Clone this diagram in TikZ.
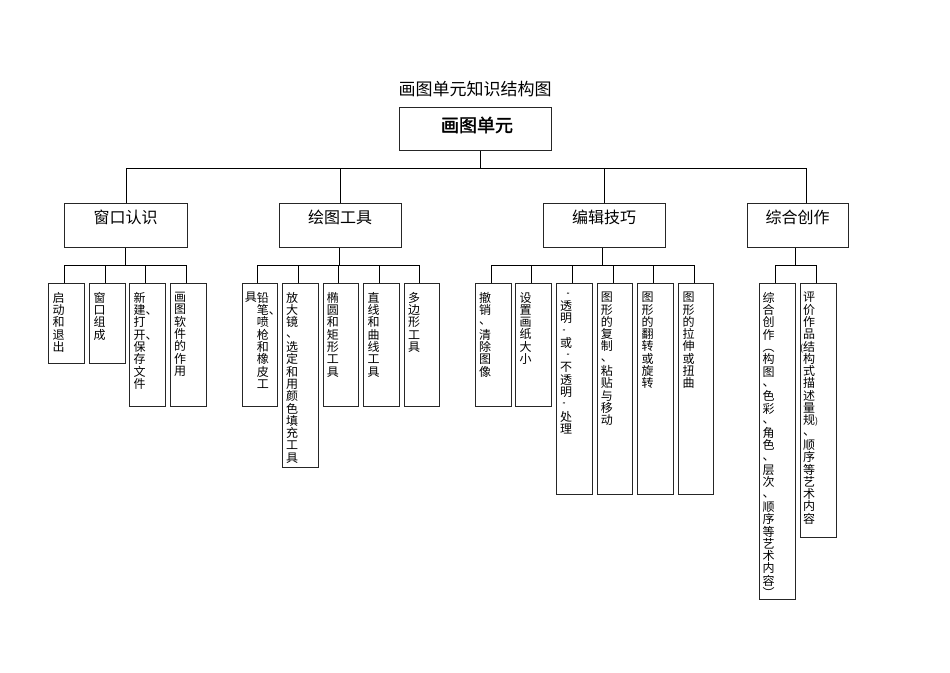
\documentclass[tikz,border=0pt]{standalone}
\usepackage{fontspec}
\newfontfamily\cjk{Noto Sans CJK SC}
\newfontfamily\cjkb[FakeBold=2]{Noto Sans CJK SC}
\def\vtendm{\vtend}
\def\vtloop#1{\def\vtarg{#1}\ifx\vtarg\vtendm\else\hbox to 12pt{\hss#1\hss}\expandafter\vtloop\fi}
\newcommand\vt[1]{\vtop{\baselineskip=12.3pt\lineskiplimit=-20pt\lineskip=0pt\vtloop#1\vtend}}
\newcommand\qm[1]{{\fontsize{7pt}{7pt}\selectfont #1}}
\newcommand\pl{\llap{\fontsize{9pt}{9pt}\selectfont(}}
\newcommand\pr{\rlap{\fontsize{9pt}{9pt}\selectfont)}}
\newcommand\dn{\raisebox{2pt}{、}}
\begin{document}
\begin{tikzpicture}[x=1pt,y=-1pt,font=\cjk,
  frame/.style={draw=black!85,line width=1.1pt,inner sep=0pt,anchor=north west},
  vtxt/.style={inner sep=0pt,anchor=north west,font=\cjk\fontsize{12pt}{12pt}\selectfont},
  l2txt/.style={inner sep=0pt,font=\cjk\fontsize{16pt}{16pt}\selectfont},
  conn/.style={draw=black,line width=0.8pt}]
\useasboundingbox (0,0) rectangle (950,672);
\fill[white] (0,0) rectangle (950,672);

% title and root
\node[inner sep=0pt,font=\cjk\fontsize{17pt}{17pt}\selectfont] (title) at (475,89) {画图单元知识结构图};
\node[frame,minimum width=152pt,minimum height=43pt] (root) at (399,107) {};
\node[inner sep=0pt,font=\cjkb\fontsize{18pt}{18pt}\selectfont] (roottxt) at (477,125) {画图单元};

% level 2
\node[frame,minimum width=123pt,minimum height=44pt] (g1) at (64,203) {};
\node[frame,minimum width=122pt,minimum height=44pt] (g2) at (279,203) {};
\node[frame,minimum width=122pt,minimum height=44pt] (g3) at (543,203) {};
\node[frame,minimum width=101pt,minimum height=44pt] (g4) at (747,203) {};
\node[l2txt] (g1t) at (125.5,217) {窗口认识};
\node[l2txt] (g2t) at (340,217) {绘图工具};
\node[l2txt] (g3t) at (604,217) {编辑技巧};
\node[l2txt] (g4t) at (797.5,217) {综合创作};

\coordinate (bar0) at (0,168);
\coordinate (bar1) at (0,265);
\coordinate (rootd) at ([xshift=5pt]root.south);
\draw[conn] (rootd) -- (rootd |- bar0) -| (g1.north);
\draw[conn] (rootd |- bar0) -| (g2.north);
\draw[conn] (rootd |- bar0) -| (g3.north);
\draw[conn] (rootd |- bar0) -| ([xshift=8.5pt]g4.north);

% level 3 group 1
\node[frame,minimum width=36pt,minimum height=80.5pt] (a1) at (48.3,282.5) {};
\node[frame,minimum width=35.4pt,minimum height=80.5pt] (a2) at (89.3,282.5) {};
\node[frame,minimum width=36pt,minimum height=123.5pt] (a3) at (129.3,282.5) {};
\node[frame,minimum width=36pt,minimum height=123.5pt] (a4) at (170,282.5) {};
\node[vtxt] (a1t) at ([xshift=4pt,yshift=-9.5pt]a1.north west) {\vt{启动和退出}};
\node[vtxt] (a2t) at ([xshift=4pt,yshift=-9.5pt]a2.north west) {\vt{窗口组成}};
\node[vtxt] (a3t) at ([xshift=4pt,yshift=-9.5pt]a3.north west) {\vt{新{建\rlap{、}}打{开\rlap{、}}保存文件}};
\node[vtxt] (a4t) at ([xshift=4pt,yshift=-9.5pt]a4.north west) {\vt{画图软件的作用}};
\foreach \c in {a1,a2,a3,a4}{\draw[conn] ([xshift=-1pt]g1.south) -- ([xshift=-1pt]g1.south |- bar1) -| ([xshift=-2.2pt]\c.north);}

% level 3 group 2
\node[frame,minimum width=35.6pt,minimum height=123.5pt] (b1) at (241.7,282.5) {};
\node[frame,minimum width=35.7pt,minimum height=184.8pt] (b2) at (282,282.5) {};
\node[frame,minimum width=35.6pt,minimum height=123.5pt] (b3) at (322.7,282.5) {};
\node[frame,minimum width=35.7pt,minimum height=123.5pt] (b4) at (363.3,282.5) {};
\node[frame,minimum width=35.3pt,minimum height=123.5pt] (b5) at (404,282.5) {};
\node[vtxt] (b1t) at ([xshift=15pt,yshift=-9.5pt]b1.north west) {\vt{铅{笔\rlap{、}}喷枪和橡皮工}};
\node[vtxt] (b1u) at ([xshift=3pt,yshift=-9.5pt]b1.north west) {\vt{具}};
\node[vtxt] (b2t) at ([xshift=4pt,yshift=-9.5pt]b2.north west) {\vt{放大镜{\dn}选定和用颜色填充工具}};
\node[vtxt] (b3t) at ([xshift=4pt,yshift=-9.5pt]b3.north west) {\vt{椭圆和矩形工具}};
\node[vtxt] (b4t) at ([xshift=4pt,yshift=-9.5pt]b4.north west) {\vt{直线和曲线工具}};
\node[vtxt] (b5t) at ([xshift=4pt,yshift=-9.5pt]b5.north west) {\vt{多边形工具}};
\foreach \c in {b1,b2,b3,b4,b5}{\draw[conn] ([xshift=-1pt]g2.south) -- ([xshift=-1pt]g2.south |- bar1) -| ([xshift=-2.4pt]\c.north);}

% level 3 group 3
\node[frame,minimum width=35.7pt,minimum height=123.5pt] (c1) at (475,282.5) {};
\node[frame,minimum width=35.7pt,minimum height=123.5pt] (c2) at (515.3,282.5) {};
\node[frame,minimum width=35.7pt,minimum height=211.8pt] (c3) at (556,282.5) {};
\node[frame,minimum width=35.6pt,minimum height=211.8pt] (c4) at (596.7,282.5) {};
\node[frame,minimum width=35.4pt,minimum height=211.8pt] (c5) at (637.3,282.5) {};
\node[frame,minimum width=35pt,minimum height=211.8pt] (c6) at (678.3,282.5) {};
\node[vtxt] (c1t) at ([xshift=4pt,yshift=-9.5pt]c1.north west) {\vt{撤销{\dn}清除图像}};
\node[vtxt] (c2t) at ([xshift=4pt,yshift=-9.5pt]c2.north west) {\vt{设置画纸大小}};
\node[vtxt] (c3t) at ([xshift=4pt,yshift=-9.5pt]c3.north west) {\vt{{\qm{“}}透明{\qm{”}}或{\qm{“}}不透明{\qm{”}}处理}};
\node[vtxt] (c4t) at ([xshift=4pt,yshift=-9.5pt]c4.north west) {\vt{图形的复制{\dn}粘贴与移动}};
\node[vtxt] (c5t) at ([xshift=4pt,yshift=-9.5pt]c5.north west) {\vt{图形的翻转或旋转}};
\node[vtxt] (c6t) at ([xshift=4pt,yshift=-9.5pt]c6.north west) {\vt{图形的拉伸或扭曲}};
\foreach \c in {c1,c2,c3,c4,c5,c6}{\draw[conn] ([xshift=-2pt]g3.south) -- ([xshift=-2pt]g3.south |- bar1) -| ([xshift=-2pt]\c.north);}

% level 3 group 4
\node[frame,minimum width=35.7pt,minimum height=316.8pt] (d1) at (759.3,282.5) {};
\node[frame,minimum width=35.7pt,minimum height=254.8pt] (d2) at (800,282.5) {};
\node[vtxt] (d1t) at ([xshift=3pt,yshift=-9.5pt]d1.north west) {\vt{综合创作︵构图{\dn}色彩{\dn}角色{\dn}层次{\dn}顺序等艺术内容︶}};
\node[vtxt] (d2t) at ([xshift=3pt,yshift=-9.5pt]d2.north west) {\vt{评价作品{\pl 结}构式描述量{规\pr}{\dn}顺序等艺术内容}};
\foreach \c in {d1,d2}{\draw[conn] ([xshift=-2.5pt]g4.south) -- ([xshift=-2.5pt]g4.south |- bar1) -| ([xshift=-2.4pt]\c.north);}
\end{tikzpicture}
\end{document}
